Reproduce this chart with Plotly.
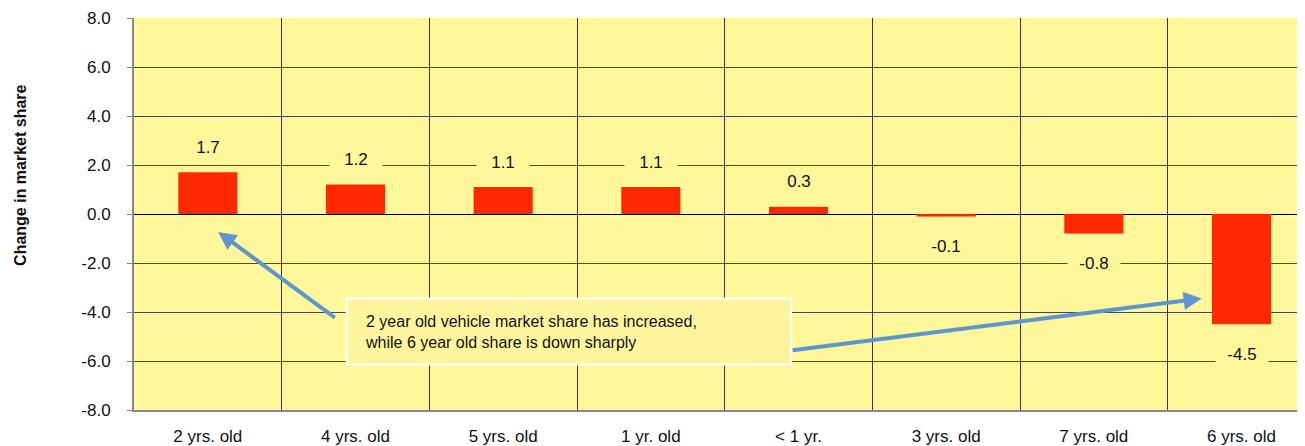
import plotly.graph_objects as go

categories = ["2 yrs. old", "4 yrs. old", "5 yrs. old", "1 yr. old", "< 1 yr.", "3 yrs. old", "7 yrs. old", "6 yrs. old"]
values = [1.7, 1.2, 1.1, 1.1, 0.3, -0.1, -0.8, -4.5]
y_ticks = [-8, -6, -4, -2, 0, 2, 4, 6, 8]
note_text = "2 year old vehicle market share has increased,<br>while 6 year old share is down sharply"

BG = "#FFF799"
BAR = "#FF2800"
ARROW = "#5E95CF"
FONT = "Liberation Sans, Arial"

fig = go.Figure()
fig.add_trace(go.Bar(x=categories, y=values, marker=dict(color=BAR, line=dict(width=0)), width=0.4))

annotations = []
for i, v in enumerate(values):
    annotations.append(dict(
        x=i, y=v, xref="x", yref="y", text=f"{v:.1f}", showarrow=False,
        yshift=25 if v >= 0 else -30, bgcolor=BG, borderpad=1, width=50,
        font=dict(family=FONT, size=17, color="#111"),
    ))

# note box text
annotations.append(dict(
    x=1.05, y=-4.8, xref="x", yref="y", xanchor="left", yanchor="middle", align="left",
    text=note_text, showarrow=False,
    font=dict(family=FONT, size=16, color="#111"),
))
# arrows
annotations.append(dict(x=0.07, y=-0.73, ax=0.87, ay=-4.27, xref="x", yref="y", axref="x", ayref="y",
                        text="", showarrow=True, arrowhead=2, arrowsize=0.9, arrowwidth=4, arrowcolor=ARROW))
annotations.append(dict(x=6.73, y=-3.45, ax=3.95, ay=-5.57, xref="x", yref="y", axref="x", ayref="y",
                        text="", showarrow=True, arrowhead=2, arrowsize=0.9, arrowwidth=4, arrowcolor=ARROW))
# y title
annotations.append(dict(x=-0.0964, y=0.60, xref="paper", yref="paper", xanchor="center", yanchor="middle",
                        text="<b>Change in market share</b>",
                        textangle=-90, showarrow=False,
                        font=dict(family=FONT, size=16, color="#111")))

shapes = [dict(type="rect", xref="x", yref="y", x0=0.94, x1=3.95, y0=-3.45, y1=-6.14,
               fillcolor="#FFF59E", line=dict(color="white", width=2), layer="above")]

fig.update_layout(
    width=1297, height=438,
    margin=dict(l=126, r=0, t=10, b=34),
    paper_bgcolor="white", plot_bgcolor=BG,
    showlegend=False,
    annotations=annotations, shapes=shapes,
    xaxis=dict(type="category", range=[-0.5, 7.43], tickson="boundaries", showgrid=True,
               gridcolor="#3a3a2a", gridwidth=1, showline=True, linecolor="#888", linewidth=2,
               ticks="", ticklabelstandoff=10,
               tickfont=dict(family=FONT, size=17, color="#111")),
    yaxis=dict(range=[-8, 8], tickvals=y_ticks, ticktext=[f"{t:.1f}" for t in y_ticks],
               showgrid=True, gridcolor="#4a4a38", gridwidth=1, zeroline=True, zerolinecolor="black",
               zerolinewidth=1, showline=True, linecolor="#888", linewidth=2, ticks="outside",
               ticklen=5, tickcolor="#888", ticklabelstandoff=13,
               tickfont=dict(family=FONT, size=17, color="#111")),
)

fig.write_html("out.html")
